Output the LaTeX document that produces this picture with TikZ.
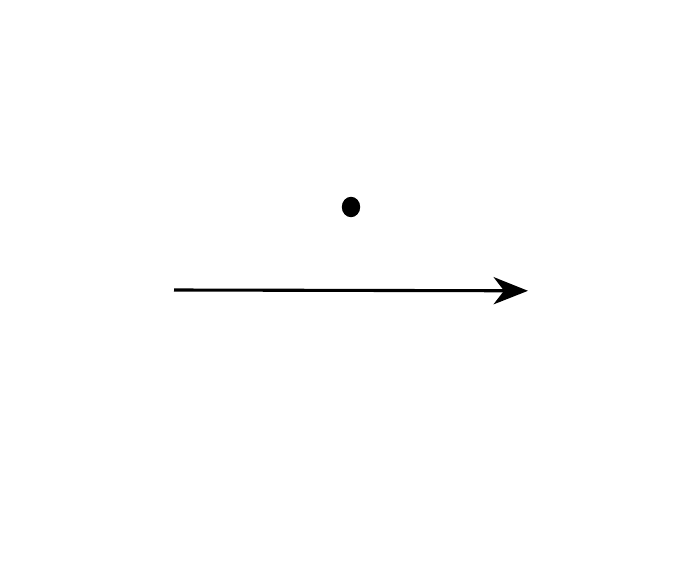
\documentclass[tikz,border=0pt]{standalone}
\usepackage{tikz}
\usetikzlibrary{arrows.meta,shapes.geometric}

\begin{document}
\begin{tikzpicture}[>={Stealth[length=8.6mm,width=6.8mm,inset=2.6mm]},
  point/.style={ellipse,fill=black,inner sep=0pt,minimum width=4.6mm,minimum height=5.1mm},
  axis/.style={->,line width=2.2pt}]

  \useasboundingbox (0,0) rectangle (17.4,14.1);

  \node[point] (p) at (8.775,8.925) {};

  \coordinate (start) at (4.35,6.85);
  \coordinate (end) at (13.2,6.83);
  \draw[axis] (start) -- (end);

\end{tikzpicture}
\end{document}
